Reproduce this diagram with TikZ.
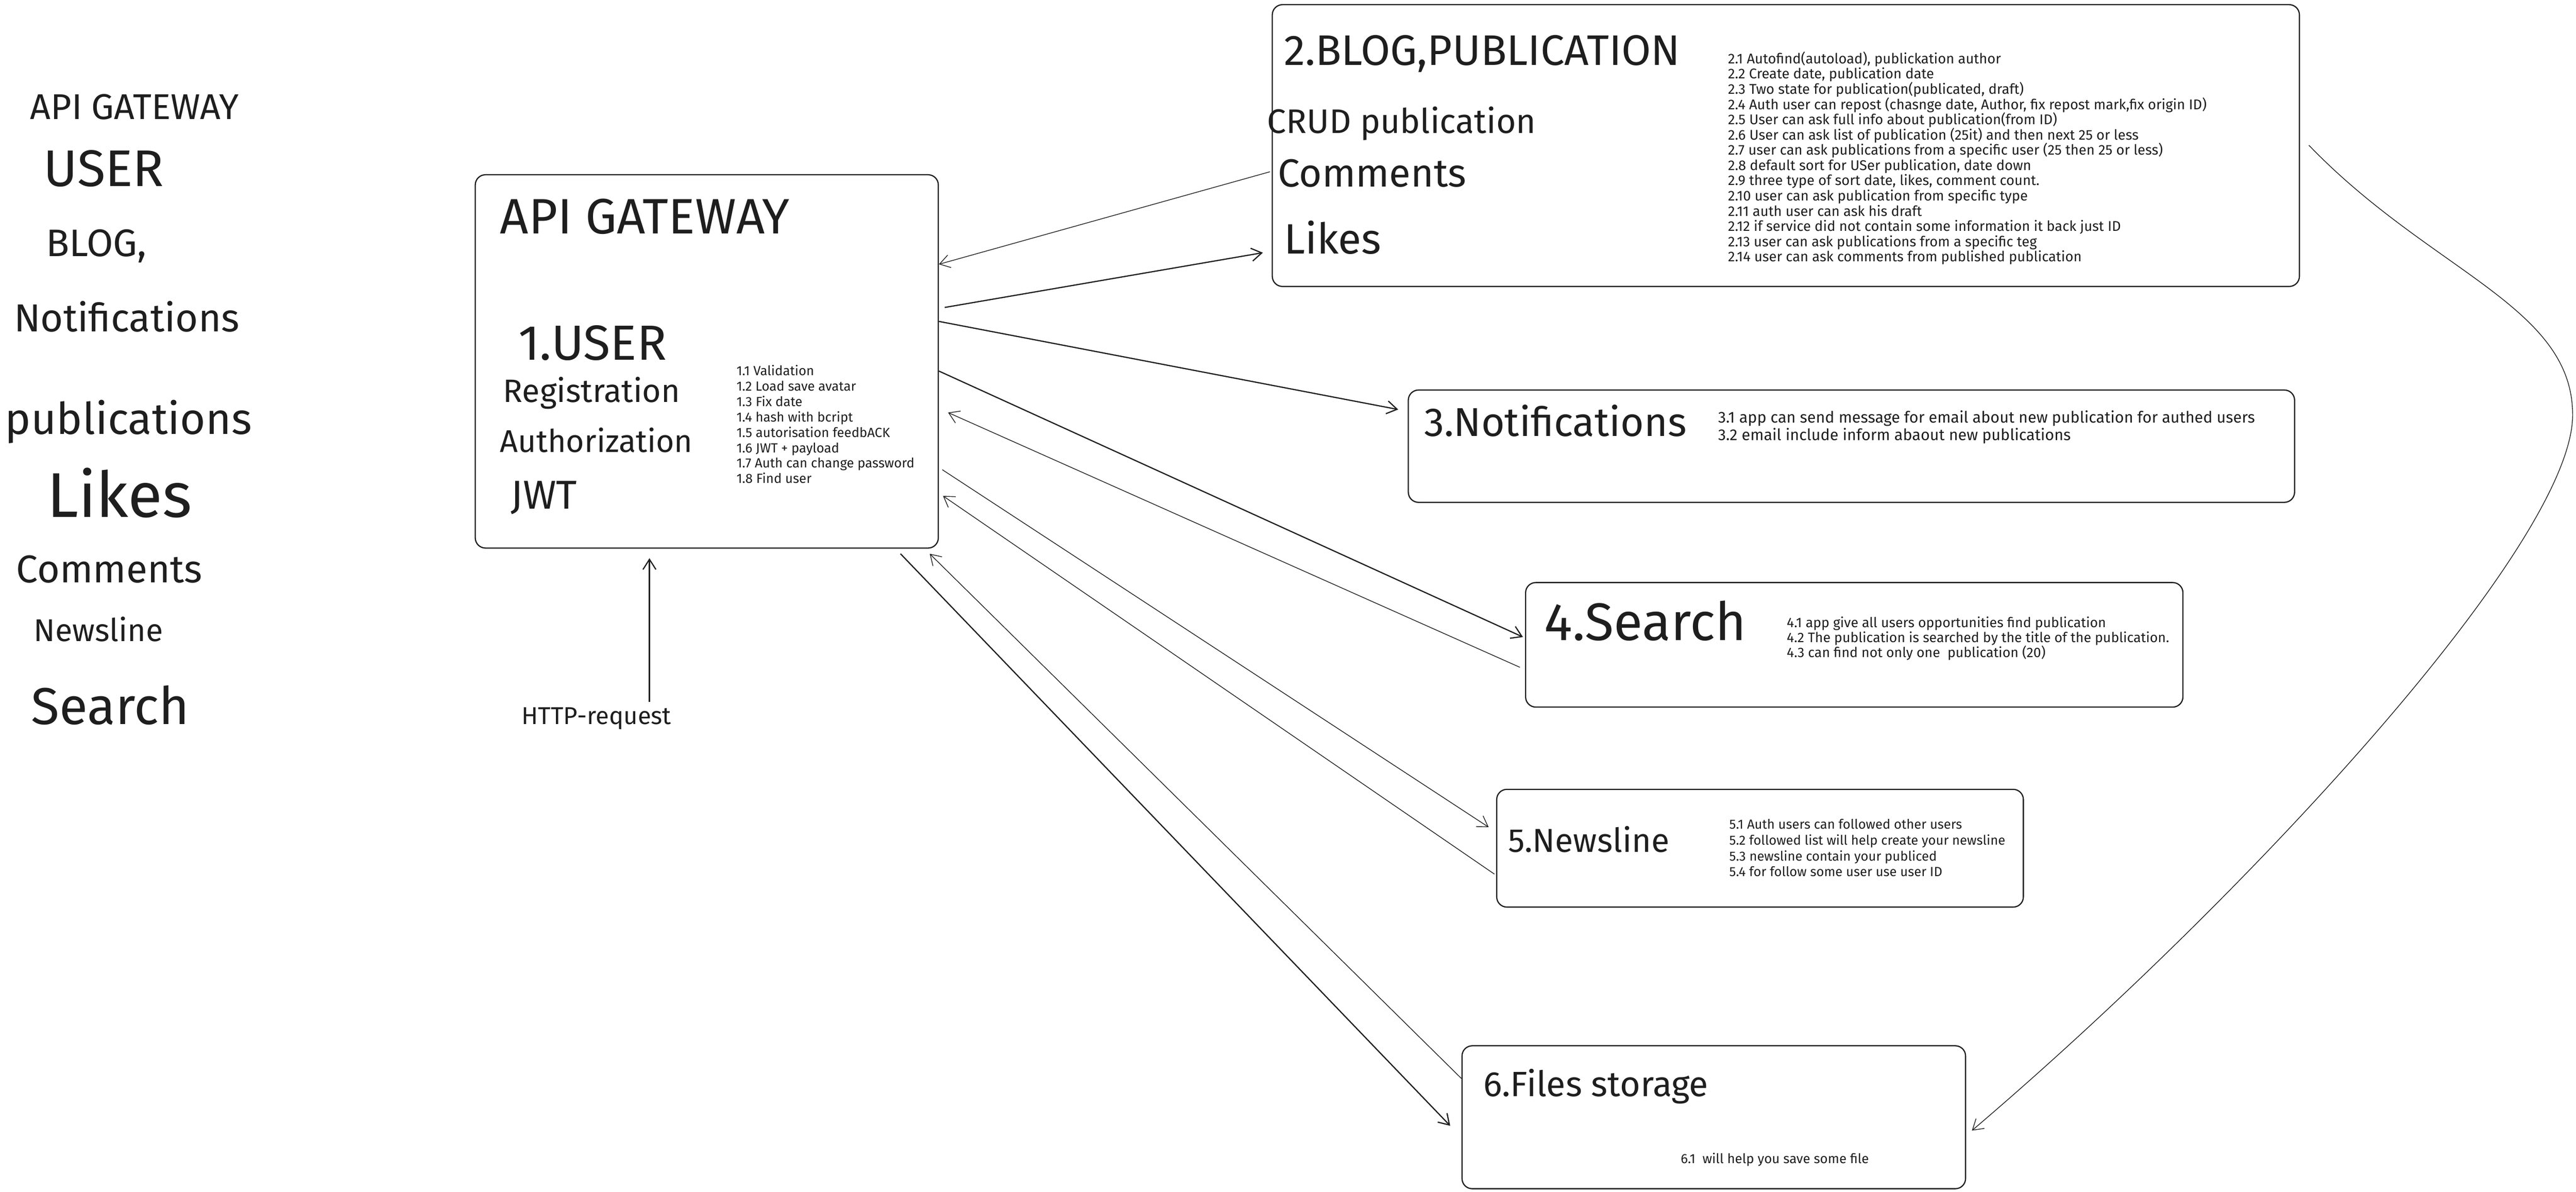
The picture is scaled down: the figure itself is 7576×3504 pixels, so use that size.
\documentclass[tikz,border=0pt]{standalone}
\usepackage{fontspec}
\setmainfont{Fira Sans}
\newfontfamily\handfont{Fira Sans}
\usetikzlibrary{arrows.meta,calc}
\definecolor{ink}{HTML}{1E1E1E}
\newlength\fitlen
\newcommand\fitscale[3]{\settowidth\fitlen{\handfont #3}\pgfmathsetmacro#1{#2*0.284528/\fitlen}\global\let#1#1}
\newcommand\fw[2]{\resizebox{#1cm}{!}{\handfont #2}}
\begin{document}
\fitscale\sA{523}{1.7 Auth can change password}%
\fitscale\sB{1407}{2.4 Auth user can repost (chasnge date, Author, fix repost mark,fix origin ID)}%
\fitscale\sC{1578}{3.1 app can send message for email about new publication for authed users}%
\fitscale\sD{1124}{4.2 The publication is searched by the title of the publication.}%
\fitscale\sE{811}{5.2 followed list will help create your newsline}%
\begin{tikzpicture}[x=0.01cm,y=-0.01cm,
  box/.style={draw=ink,line width=1pt,rounded corners=0.3cm,inner sep=0pt,anchor=north west,fill=white},
  txt/.style={anchor=base west,inner sep=0pt,outer sep=0pt,text=ink},
  thinc/.style={draw=ink,line width=0.6pt,-{Straight Barb[length=0.3cm,width=0.38cm]}},
  thickc/.style={draw=ink,line width=1pt,-{Straight Barb[length=0.3cm,width=0.38cm]}}]
\fill[white] (0,0) rectangle (7576,3504);
\useasboundingbox (0,0) rectangle (7576,3504);
% boxes
\node[box,minimum width=13.61cm,minimum height=10.97cm] (api) at (1396,512) {};
\node[box,minimum width=30.19cm,minimum height=8.28cm] (blog) at (3740,12) {};
\node[box,minimum width=26.05cm,minimum height=3.30cm] (notif) at (4140,1145) {};
\node[box,minimum width=19.32cm,minimum height=3.66cm] (search) at (4485,1711) {};
\node[box,minimum width=15.48cm,minimum height=3.46cm] (news) at (4400,2319) {};
\node[box,minimum width=14.80cm,minimum height=4.20cm] (files) at (4298,3073) {};
% left list
\node[txt] (lg1) at (89,351) {\fw{6.13}{API GATEWAY}};
\node[txt] (lg2) at (128,547) {\fw{3.54}{USER}};
\node[txt] (lg3) at (135,754) {\fw{2.96}{BLOG,}};
\node[txt] (lg4) at (41,975) {\fw{6.63}{Notifications}};
\node[txt] (lg5) at (15,1277) {\fw{7.25}{publications}};
\node[txt] (lg6) at (138,1521) {\fw{4.26}{Likes}};
\node[txt] (lg7) at (48,1713) {\fw{5.46}{Comments}};
\node[txt] (lg8) at (99,1886) {\fw{3.81}{Newsline}};
\node[txt] (lg9) at (92,2130) {\fw{4.64}{Search}};
% api box texts
\node[txt] (apit) at (1471,687) {\fw{8.51}{API GATEWAY}};
\node[txt] (usert) at (1525,1059) {\fw{4.35}{1.USER}};
\node[txt] (regt) at (1480,1183) {\fw{5.20}{Registration}};
\node[txt] (autht) at (1471,1330) {\fw{5.66}{Authorization}};
\node[txt] (jwtt) at (1502,1496) {\fw{1.95}{JWT}};
\foreach \t [count=\i] in {{1.1 Validation},{1.2 Load save avatar},{1.3 Fix date},{1.4 hash with bcript},{1.5 autorisation feedbACK},{1.6 JWT + payload},{1.7 Auth can change password},{1.8 Find user}}
  \node[txt] (ul\i) at (2166,{1104.5+45.2*(\i-1)}) {\scalebox{\sA}{\handfont \t}};
% blog texts
\node[txt] (blogt) at (3776,192) {\fw{11.65}{2.BLOG,PUBLICATION}};
\node[txt] (crudt) at (3727,392) {\fw{7.90}{CRUD publication}};
\node[txt] (commt) at (3758,549) {\fw{5.54}{Comments}};
\node[txt] (likest) at (3776,746) {\fw{2.86}{Likes}};
\foreach \t [count=\i] in {{2.1 Autofind(autoload), publickation author},{2.2 Create date, publication date},{2.3 Two state for publication(publicated, draft)},{2.4 Auth user can repost (chasnge date, Author, fix repost mark,fix origin ID)},{2.5 User can ask full info about publication(from ID)},{2.6 User can ask list of publication (25it) and then next 25 or less},{2.7 user can ask publications from a specific user (25 then 25 or less)},{2.8 default sort for USer publication, date down},{2.9 three type of sort date, likes, comment count.},{2.10 user can ask publication from specific type},{2.11 auth user can ask his draft},{2.12 if service did not contain some information it back just ID},{2.13 user can ask publications from a specific teg},{2.14 user can ask comments from published publication}}
  \node[txt] (bl\i) at (5082,{187+44.8*(\i-1)}) {\scalebox{\sB}{\handfont \t}};
% notifications
\node[txt] (notift) at (4188,1283) {\fw{7.72}{3.Notifications}};
\node[txt] (nl1) at (5053,1243) {\scalebox{\sC}{\handfont 3.1 app can send message for email about new publication for authed users}};
\node[txt] (nl2) at (5053,1295) {\scalebox{\sC}{\handfont 3.2 email include inform abaout new publications}};
% search
\node[txt] (searcht) at (4542,1883) {\fw{5.93}{4.Search}};
\node[txt] (sl1) at (5255,1845) {\scalebox{\sD}{\handfont 4.1 app give all users opportunities find publication}};
\node[txt] (sl2) at (5255,1888) {\scalebox{\sD}{\handfont 4.2 The publication is searched by the title of the publication.}};
\node[txt] (sl3) at (5255,1933) {\scalebox{\sD}{\handfont 4.3 can find not only one\ \ publication (20)}};
% newsline
\node[txt] (newst) at (4435,2505) {\fw{4.74}{5.Newsline}};
\foreach \t [count=\i] in {{5.1 Auth users can followed other users},{5.2 followed list will help create your newsline},{5.3 newsline contain your publiced},{5.4 for follow some user use user ID}}
  \node[txt] (wl\i) at (5086,{2437+46.7*(\i-1)}) {\scalebox{\sE}{\handfont \t}};
% files
\node[txt] (filest) at (4363,3223) {\fw{6.61}{6.Files storage}};
\node[txt] (fl1) at (4943,3420) {\fw{5.53}{6.1\ \ will help you save some file}};
% http
\node[txt] (http) at (1534,2129) {\fw{4.40}{HTTP-request}};
\coordinate (hs) at (1910,2064);
% connectors
\draw[thickc,shorten >=0.28cm] (hs) -- (api.south -| hs);
\draw[thinc] ($(blog.west |- 0,505)+(-5,0)$) -- (api.east |- 0,777);
\draw[thickc] ($(api.east |- 0,904)+(17,0)$) -- ($(blog.west |- 0,743)+(-26,0)$);
\draw[thickc] (api.east |- 0,945) -- ($(notif.west |- 0,1204)+(-28,0)$);
\draw[thickc] (api.east |- 0,1091) -- ($(search.west |- 0,1873)+(-6,0)$);
\draw[thinc] ($(search.west |- 0,1962)+(-15,0)$) -- ($(api.east |- 0,1213)+(27,0)$);
\draw[thinc] ($(api.east |- 0,1381)+(10,0)$) -- ($(news.west |- 0,2432)+(-22,0)$);
\draw[thinc] ($(news.west |- 0,2570)+(-5,0)$) -- ($(api.east |- 0,1458)+(12,0)$);
\draw[thickc] ($(api.south east)+(-113,15)$) -- ($(files.west |- 0,3310)+(-33,0)$);
\draw[thinc] (files.west |- 0,3171) -- ($(api.south east)+(-27,15)$);
\draw[thinc] ($(blog.east |- 0,427)+(26,0)$) .. controls (7150,800) and (7566,900) .. (7566,1220)
  .. controls (7566,1600) and (6600,2643) .. ($(files.east |- 0,3324)+(17,0)$);
\end{tikzpicture}
\end{document}
